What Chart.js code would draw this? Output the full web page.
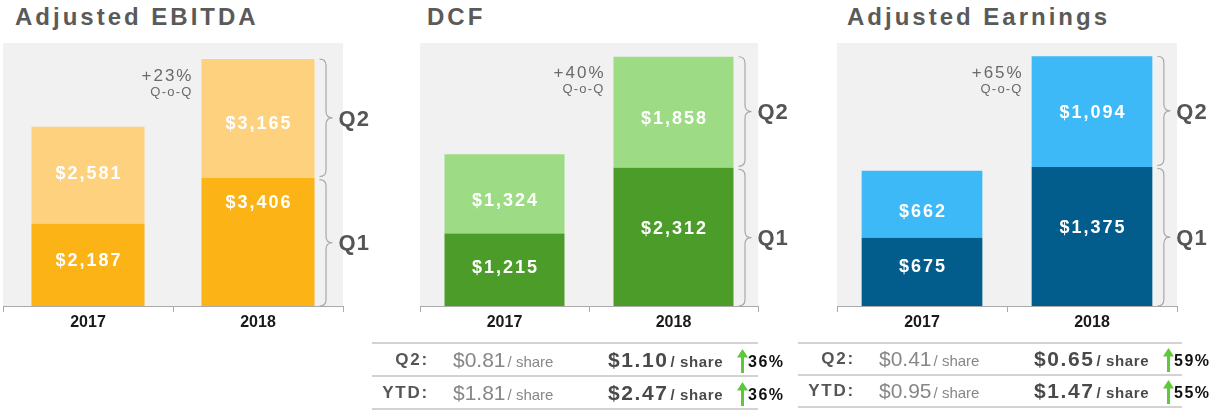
<!DOCTYPE html>
<html>
<head>
<meta charset="utf-8">
<script src="https://cdn.jsdelivr.net/npm/chart.js"></script>
<style>
  body { margin: 0; width: 1229px; height: 418px; background: #fff; position: relative; overflow: hidden;
         font-family: "Liberation Sans", Arial, sans-serif; }
  .title { position: absolute; top: 3px; font-size: 24px; font-weight: bold; letter-spacing: 3px; color: #5a5a5a; }
  .box { position: absolute; top: 0; }
  .tbl { position: absolute; top: 342px; border-top: 2px solid #d2d2d2; }
  .row { position: relative; border-bottom: 2px solid #d2d2d2; }
  .row span { position: absolute; top: 0; white-space: nowrap; }
  .lbl { right: calc(100% - 57px); font-size: 17px; font-weight: bold; letter-spacing: 1.8px; color: #555; }
  .prev { left: 81px; font-size: 21px; color: #878787; }
  .prev small { font-size: 15px; margin-left: 2px; }
  .curr { left: 236px; font-size: 21px; font-weight: bold; letter-spacing: 1.6px; color: #4a4a4a; }
  .curr small { font-size: 15px; letter-spacing: 0.6px; margin-left: 2px; }
  .arr { left: 365px; }
  .pct { left: 376px; font-size: 16px; font-weight: bold; letter-spacing: 1.5px; color: #111; }
</style>
</head>
<body>
<div class="title" style="left:15px">Adjusted EBITDA</div>
<div class="title" style="left:427px">DCF</div>
<div class="title" style="left:847px">Adjusted Earnings</div>

<div class="box" style="left:0"><canvas id="ebitda" width="410" height="340"></canvas></div>
<div class="box" style="left:400px"><canvas id="dcf" width="420" height="340"></canvas></div>
<div class="box" style="left:800px"><canvas id="earn" width="429" height="340"></canvas></div>

<div class="tbl" id="dcfTable" style="left:372px; width:386px"></div>
<div class="tbl" id="earnTable" style="left:798px; width:384px"></div>

<script>
const years = ['2017', '2018'];

const ebitdaQ1 = [2187, 3406];
const ebitdaQ2 = [2581, 3165];
const dcfQ1 = [1215, 2312];
const dcfQ2 = [1324, 1858];
const earnQ1 = [675, 1375];
const earnQ2 = [662, 1094];

const growth = ['+23%', '+40%', '+65%'];

const shareRows = ['Q2:', 'YTD:'];
const dcfPrev = [0.81, 1.81];
const dcfCurr = [1.10, 2.47];
const dcfChange = [36, 36];
const earnPrev = [0.41, 0.95];
const earnCurr = [0.65, 1.47];
const earnChange = [59, 55];

Chart.defaults.font.family = '"Liberation Sans", Arial, sans-serif';

function brace(ctx, x, y0, y1, w) {
  const m = (y0 + y1) / 2, r = w / 2;
  ctx.beginPath();
  ctx.moveTo(x, y0);
  ctx.quadraticCurveTo(x + r, y0, x + r, y0 + r);
  ctx.lineTo(x + r, m - r);
  ctx.quadraticCurveTo(x + r, m, x + w, m);
  ctx.quadraticCurveTo(x + r, m, x + r, m + r);
  ctx.lineTo(x + r, y1 - r);
  ctx.quadraticCurveTo(x + r, y1, x, y1);
  ctx.stroke();
}

// grey panel, values inside bars, braces + Q labels, growth note
const decor = {
  id: 'decor',
  beforeDraw(chart) {
    const { ctx, chartArea: a } = chart;
    ctx.save();
    ctx.fillStyle = '#f1f1f1';
    ctx.fillRect(a.left, a.top, a.right - a.left, a.bottom - a.top);
    ctx.restore();
  },
  afterDatasetsDraw(chart, args, o) {
    const ctx = chart.ctx;
    ctx.save();
    ctx.textAlign = 'center';
    ctx.textBaseline = 'middle';
    ctx.fillStyle = '#fff';
    ctx.font = 'bold 18px "Liberation Sans", Arial';
    ctx.letterSpacing = '2px';
    chart.data.datasets.forEach((ds, di) => {
      chart.getDatasetMeta(di).data.forEach((bar, i) => {
        const y = (bar.y + bar.base) / 2 + o.shift[di][i];
        ctx.fillText('$' + ds.data[i].toLocaleString('en-US'), bar.x + 1, y);
      });
    });

    const b1 = chart.getDatasetMeta(0).data[1];
    const b2 = chart.getDatasetMeta(1).data[1];
    const bx = b1.x + b1.width / 2 + 5, bw = 13;
    ctx.strokeStyle = '#a8a8a8';
    ctx.lineWidth = 1.2;
    brace(ctx, bx, b2.y, b2.base - 1.5, bw);
    brace(ctx, bx, b1.y + 1.5, b1.base, bw);

    ctx.textAlign = 'left';
    ctx.fillStyle = '#555';
    ctx.font = 'bold 22px "Liberation Sans", Arial';
    ctx.letterSpacing = '1px';
    ctx.fillText('Q2', bx + bw + 6, (b2.y + b2.base) / 2 + 1);
    ctx.fillText('Q1', bx + bw + 6, (b1.y + b1.base) / 2 + 2);

    const left = b2.x - b2.width / 2 - 10;
    ctx.textAlign = 'right';
    ctx.fillStyle = '#6a6a6a';
    ctx.font = '17px "Liberation Sans", Arial';
    ctx.letterSpacing = '2px';
    ctx.fillText(o.growth, left + 2, b2.y + 17);
    ctx.font = '13px "Liberation Sans", Arial';
    ctx.letterSpacing = '1.2px';
    ctx.fillText('Q-o-Q', left + 1, b2.y + 33);
    ctx.restore();
  }
};

function makeChart(id, q1, q2, colors, max, pad, barPct, growthText, shift) {
  return new Chart(document.getElementById(id), {
    type: 'bar',
    data: {
      labels: years,
      datasets: [
        { label: 'Q1', data: q1, backgroundColor: colors[0], barPercentage: barPct, categoryPercentage: 1 },
        { label: 'Q2', data: q2, backgroundColor: colors[1], barPercentage: barPct, categoryPercentage: 1 }
      ]
    },
    options: {
      responsive: false,
      animation: false,
      layout: { padding: pad },
      plugins: {
        legend: { display: false },
        tooltip: { enabled: false },
        decor: { growth: growthText, shift: shift }
      },
      scales: {
        x: {
          stacked: true,
          afterFit: s => { s.height = 34; },
          grid: { drawOnChartArea: false, tickLength: 6, color: '#aaa' },
          border: { color: '#aaa' },
          ticks: { color: '#1a1a1a', padding: 1, font: { size: 16, weight: 'bold' } }
        },
        y: { stacked: true, display: false, min: 0, max: max }
      }
    },
    plugins: [decor]
  });
}

makeChart('ebitda', ebitdaQ1, ebitdaQ2, ['#fcb315', '#fdd17d'], 7000,
  { left: 3, top: 43, right: 67, bottom: 0 }, 0.665, growth[0], [[-4, -39], [-1, 5]]);
makeChart('dcf', dcfQ1, dcfQ2, ['#4c9c2a', '#9ddb84'], 4400,
  { left: 20, top: 43, right: 62, bottom: 0 }, 0.71, growth[1], [[-2, -8], [7, 7]]);
makeChart('earn', earnQ1, earnQ2, ['#035d8c', '#3cb9f6'], 2600,
  { left: 37, top: 43, right: 52, bottom: 0 }, 0.71, growth[2], [[-5, -8], [8, 1]]);

const arrow = '<svg width="11" height="24" viewBox="0 0 11 24"><path d="M5.5 0 L11 8.5 L7 8.5 L7 24 L4 24 L4 8.5 L0 8.5 Z" fill="#5cc83a"/></svg>';

function shareTable(id, prev, curr, change, rowH) {
  const el = document.getElementById(id);
  shareRows.forEach((name, i) => {
    const row = document.createElement('div');
    row.className = 'row';
    row.style.height = rowH + 'px';
    const lh = 'line-height:' + rowH + 'px';
    row.innerHTML =
      `<span class="lbl" style="${lh}">${name}</span>` +
      `<span class="prev" style="${lh}">$${prev[i].toFixed(2)}<small>/ share</small></span>` +
      `<span class="curr" style="${lh}">$${curr[i].toFixed(2)}<small>/ share</small></span>` +
      `<span class="arr" style="top:${(rowH - 24) / 2 + 1}px">${arrow}</span>` +
      `<span class="pct" style="${lh}; top:2px">${change[i]}%</span>`;
    el.appendChild(row);
  });
}

shareTable('dcfTable', dcfPrev, dcfCurr, dcfChange, 31);
shareTable('earnTable', earnPrev, earnCurr, earnChange, 30);
</script>
</body>
</html>
